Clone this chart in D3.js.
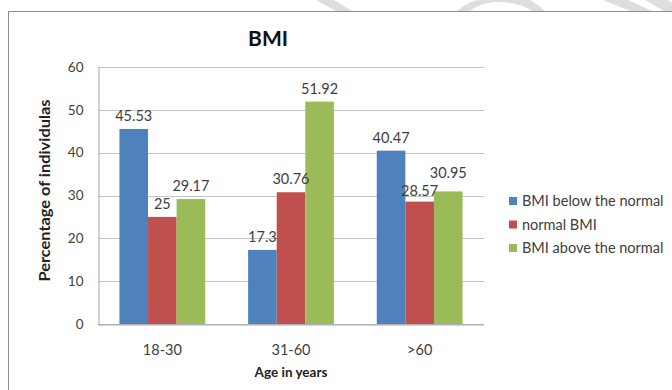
<!DOCTYPE html>
<html>
<head>
<meta charset="utf-8">
<script src="https://cdn.jsdelivr.net/npm/d3@7"></script>
<style>
  html, body { margin: 0; padding: 0; background: #fff; }
  svg { display: block; }
  text { font-family: Lato, "Open Sans", "DejaVu Sans", sans-serif; }
</style>
</head>
<body>
<svg id="chart" width="672" height="390"></svg>
<script>
// Age groups on the x axis
const categories = ["18-30", "31-60", ">60"];
// Series names and their values (percent of individuals) per age group
const seriesNames = ["BMI below the normal", "normal BMI", "BMI above the normal"];
const belowNormal = [45.53, 17.3, 40.47];
const normalBMI = [25, 30.76, 28.57];
const aboveNormal = [29.17, 51.92, 30.95];
const yTicks = [0, 10, 20, 30, 40, 50, 60];

const seriesValues = [belowNormal, normalBMI, aboveNormal];
const colors = ["#4F81BD", "#C0504D", "#9BBB59"];

const svg = d3.select("#chart");

// Faint background strokes peeking above the frame
const wm = svg.append("g").attr("fill", "#dedede");
wm.append("path").attr("d", "M316,0 L334,0 L352,11 L336,11 Z");
wm.append("path").attr("d", "M457,11 Q470,0 480,0 L530,0 Q540,6 545,11 L532,11 Q520,2 495,2 Q478,4 470,11 Z");
wm.append("path").attr("d", "M603,0 L628,0 L652,11 L630,11 Z");
wm.append("path").attr("d", "M645,0 L668,0 L672,3 L672,11 L664,11 Z");

// Outer chart frame (top and left edges visible)
svg.append("path")
  .attr("d", "M8.5,390 L8.5,11.5 L672,11.5")
  .attr("fill", "none").attr("stroke", "#8c8c8c").attr("stroke-width", 1);

const plot = { left: 98, right: 484, top: 67, bottom: 324 };

const x0 = d3.scaleBand()
  .domain(categories)
  .range([plot.left, plot.right])
  .paddingInner(0)
  .paddingOuter(0);

// Each group holds three bars with a 150% gap split on both sides
const barW = x0.bandwidth() / 4.5;
const x1 = d3.scaleBand()
  .domain(d3.range(seriesNames.length))
  .range([0, barW * 3]);
const groupOffset = (x0.bandwidth() - barW * 3) / 2;

const y = d3.scaleLinear().domain([0, 60]).range([plot.bottom, plot.top]);

// Horizontal gridlines
svg.append("g")
  .selectAll("line")
  .data(yTicks)
  .join("line")
  .attr("x1", plot.left).attr("x2", plot.right)
  .attr("y1", d => Math.round(y(d)) + 0.5).attr("y2", d => Math.round(y(d)) + 0.5)
  .attr("stroke", "#c4c4c4").attr("stroke-width", 1);

// Y axis
const yAxis = svg.append("g")
  .attr("transform", `translate(${plot.left + 0.5},0)`)
  .call(d3.axisLeft(y).tickValues(yTicks).tickSize(0).tickPadding(15));
yAxis.select(".domain").attr("stroke", "#a6a6a6");
yAxis.selectAll("text")
  .attr("font-size", 13.5).attr("fill", "#404040")
  .style("font-family", "Lato, sans-serif");

// Bars
const groups = svg.append("g")
  .selectAll("g")
  .data(categories)
  .join("g")
  .attr("transform", d => `translate(${x0(d) + groupOffset},0)`);

groups.selectAll("rect")
  .data((c, ci) => seriesValues.map((vals, si) => ({ si, v: vals[ci] })))
  .join("rect")
  .attr("x", d => x1(d.si))
  .attr("width", x1.bandwidth())
  .attr("y", d => y(d.v))
  .attr("height", d => y(0) - y(d.v))
  .attr("fill", d => colors[d.si]);

// Value labels; two labels are nudged where they would collide
const nudge = { "2-1": 2.5, "2-2": -5 };
groups.selectAll("text.val")
  .data((c, ci) => seriesValues.map((vals, si) => ({ si, ci, v: vals[ci] })))
  .join("text")
  .attr("class", "val")
  .attr("x", d => x1(d.si) + x1.bandwidth() / 2)
  .attr("y", d => y(d.v) - 8 + (nudge[d.ci + "-" + d.si] || 0))
  .attr("text-anchor", "middle")
  .attr("font-size", 14.5)
  .attr("fill", "#404040")
  .text(d => d.v);

// X axis (category labels)
const xAxis = svg.append("g")
  .attr("transform", `translate(0,${plot.bottom + 0.5})`)
  .call(d3.axisBottom(x0).tickSize(0).tickPadding(20));
xAxis.select(".domain").attr("stroke", "#a6a6a6");
xAxis.selectAll("text")
  .attr("font-size", 14.5).attr("fill", "#404040")
  .style("font-family", "Lato, sans-serif");

// Titles
svg.append("text")
  .attr("x", 268).attr("y", 46)
  .attr("text-anchor", "middle")
  .attr("font-size", 21).attr("font-weight", "bold").attr("fill", "#111")
  .text("BMI");

svg.append("text")
  .attr("x", (plot.left + plot.right) / 2).attr("y", 377)
  .attr("text-anchor", "middle")
  .attr("font-size", 13.5).attr("font-weight", "bold").attr("fill", "#222")
  .text("Age in years");

svg.append("text")
  .attr("transform", `translate(50,${(plot.top + plot.bottom) / 2 - 5}) rotate(-90)`)
  .attr("text-anchor", "middle")
  .attr("font-size", 16).attr("font-weight", "bold").attr("fill", "#222")
  .attr("textLength", 182).attr("lengthAdjust", "spacingAndGlyphs")
  .text("Percentage of individulas");

// Legend
const legend = svg.append("g")
  .attr("transform", "translate(509,201)");
const items = legend.selectAll("g")
  .data(seriesNames)
  .join("g")
  .attr("transform", (d, i) => `translate(0,${i * 23.5})`);
items.append("rect")
  .attr("x", 0).attr("y", -4).attr("width", 8).attr("height", 8)
  .attr("fill", (d, i) => colors[i]);
items.append("text")
  .attr("x", 13).attr("y", 0).attr("dy", "0.35em")
  .attr("font-size", 14.5).attr("fill", "#404040")
  .text(d => d);
</script>
</body>
</html>
